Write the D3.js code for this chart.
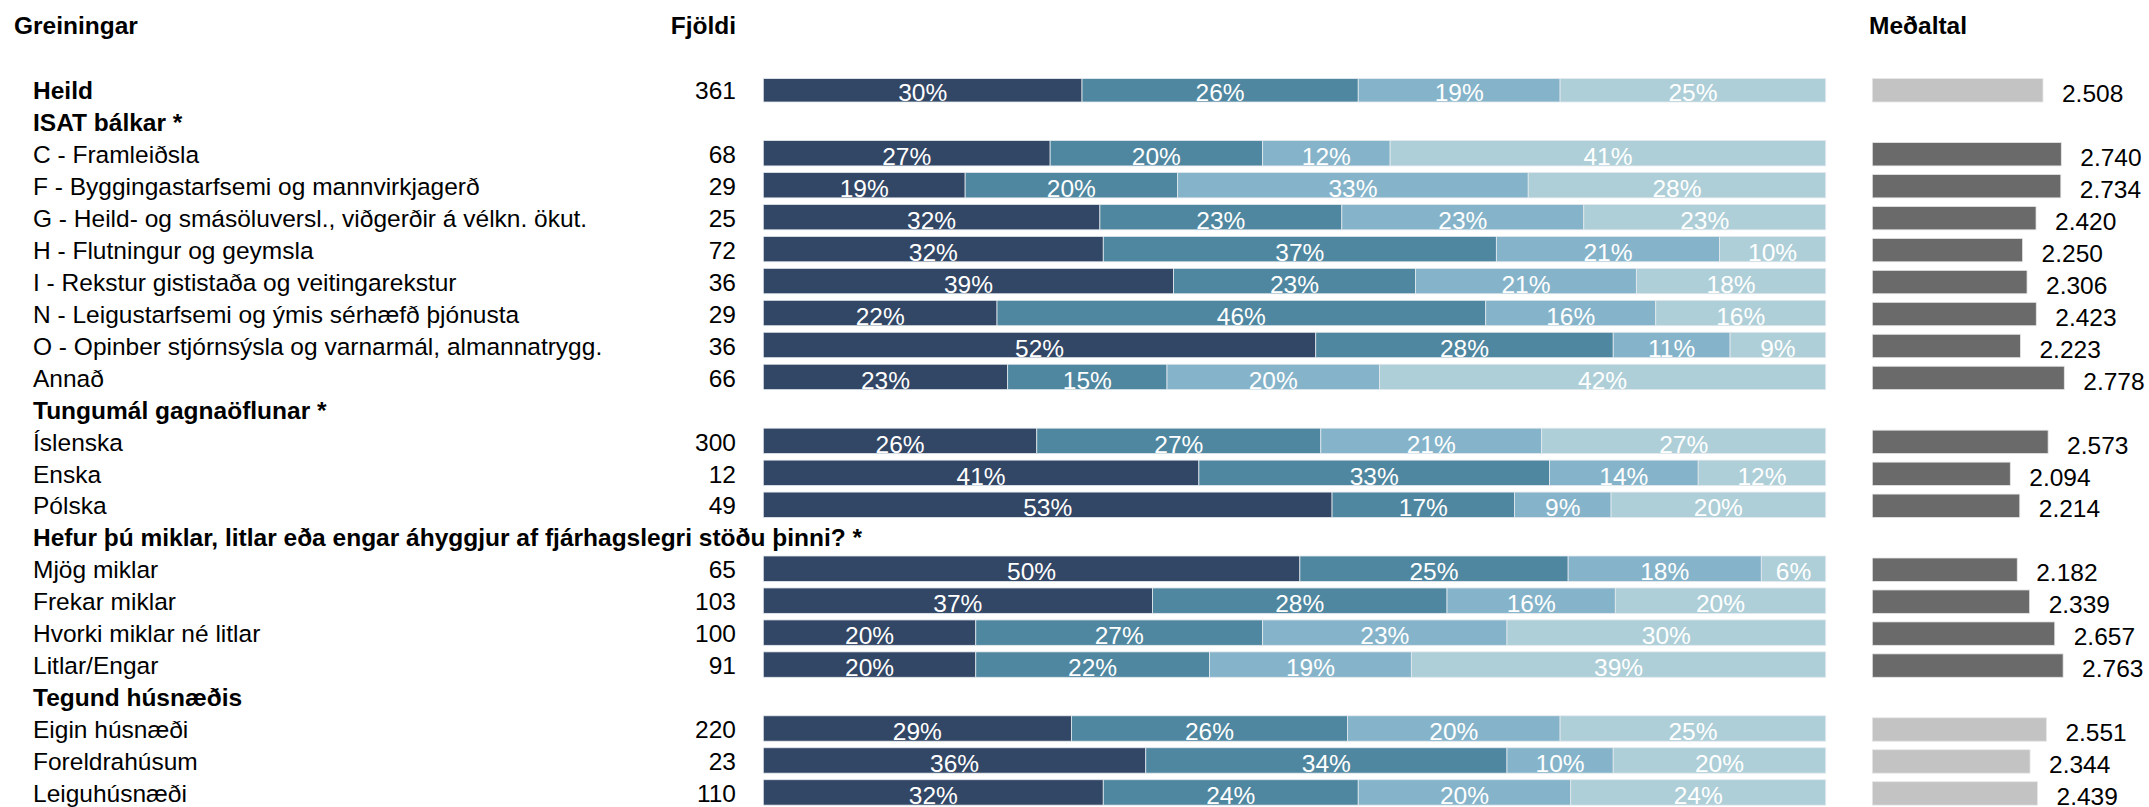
<!DOCTYPE html>
<html>
<head>
<meta charset="utf-8">
<script src="https://cdn.jsdelivr.net/npm/d3@7"></script>
<style>
  html, body { margin: 0; padding: 0; background: #ffffff; }
  svg { display: block; font-family: "Liberation Sans", Arial, sans-serif; }
</style>
</head>
<body>
<svg id="chart" width="2149" height="807"></svg>
<script>
// ---------- data ----------
const categories = [
  "Heild",
  "ISAT bálkar *",
  "C - Framleiðsla",
  "F - Byggingastarfsemi og mannvirkjagerð",
  "G - Heild- og smásöluversl., viðgerðir á vélkn. ökut.",
  "H - Flutningur og geymsla",
  "I - Rekstur gististaða og veitingarekstur",
  "N - Leigustarfsemi og ýmis sérhæfð þjónusta",
  "O - Opinber stjórnsýsla og varnarmál, almannatrygg.",
  "Annað",
  "Tungumál gagnaöflunar *",
  "Íslenska",
  "Enska",
  "Pólska",
  "Hefur þú miklar, litlar eða engar áhyggjur af fjárhagslegri stöðu þinni? *",
  "Mjög miklar",
  "Frekar miklar",
  "Hvorki miklar né litlar",
  "Litlar/Engar",
  "Tegund húsnæðis",
  "Eigin húsnæði",
  "Foreldrahúsum",
  "Leiguhúsnæði"
];
const boldRows = [
  "Heild",
  "ISAT bálkar *",
  "Tungumál gagnaöflunar *",
  "Hefur þú miklar, litlar eða engar áhyggjur af fjárhagslegri stöðu þinni? *",
  "Tegund húsnæðis"
];
const counts = [361, null, 68, 29, 25, 72, 36, 29, 36, 66, null, 300, 12, 49, null, 65, 103, 100, 91, null, 220, 23, 110];
const series1 = [30, null, 27, 19, 32, 32, 39, 22, 52, 23, null, 26, 41, 53, null, 50, 37, 20, 20, null, 29, 36, 32];
const series2 = [26, null, 20, 20, 23, 37, 23, 46, 28, 15, null, 27, 33, 17, null, 25, 28, 27, 22, null, 26, 34, 24];
const series3 = [19, null, 12, 33, 23, 21, 21, 16, 11, 20, null, 21, 14, 9, null, 18, 16, 23, 19, null, 20, 10, 20];
const series4 = [25, null, 41, 28, 23, 10, 18, 16, 9, 42, null, 27, 12, 20, null, 6, 20, 30, 39, null, 25, 20, 24];
const means = [2.508, null, 2.740, 2.734, 2.420, 2.250, 2.306, 2.423, 2.223, 2.778, null, 2.573, 2.094, 2.214, null, 2.182, 2.339, 2.657, 2.763, null, 2.551, 2.344, 2.439];
const headers = { group: "Greiningar", count: "Fjöldi", mean: "Meðaltal" };

// ---------- styles ----------
const seriesKeys = ["s1", "s2", "s3", "s4"];
const seriesColors = ["#324665", "#4f87a0", "#85b4ca", "#aecfd8"];
const meanDark = "#6a6a6a";
const meanLight = "#c3c3c3";
const fontSize = 24.5;

// ---------- build ----------
const svg = d3.select("#chart");

const rows = categories.map((c, i) => ({
  label: c, idx: i, bold: boldRows.includes(c), count: counts[i],
  s1: series1[i], s2: series2[i], s3: series3[i], s4: series4[i], mean: means[i]
}));

// which group each row belongs to (for mean bar shade: groups marked * are dark)
let currentStar = false;
rows.forEach(r => {
  if (r.bold && r.count === null) currentStar = r.label.trim().endsWith("*");
  if (r.label === "Heild") r.star = false; else r.star = currentStar;
});

// y: bottom edge of each row's bars
const y = d3.scalePoint().domain(categories).range([102, 102 + 22 * 31.96]);
const x = d3.scaleLinear().domain([0, 1]).range([763.3, 1825.7]);
const xm = d3.scaleLinear().domain([0.346, 2.778]).range([1872.3, 2064.3]);

// headers
svg.append("text").attr("x", 14).attr("y", 34).attr("font-size", fontSize).attr("font-weight", "bold")
  .attr("fill", "#000").text(headers.group);
svg.append("text").attr("x", 736).attr("y", 34).attr("font-size", fontSize).attr("font-weight", "bold")
  .attr("text-anchor", "end").attr("fill", "#000").text(headers.count);
svg.append("text").attr("x", 1869).attr("y", 34).attr("font-size", fontSize).attr("font-weight", "bold")
  .attr("fill", "#000").text(headers.mean);

// row labels
svg.append("g").selectAll("text").data(rows).join("text")
  .attr("x", 33)
  .attr("y", d => y(d.label) - 3)
  .attr("font-size", fontSize)
  .attr("font-weight", d => d.bold ? "bold" : "normal")
  .attr("fill", "#000")
  .text(d => d.label);

// counts
const dataRows = rows.filter(r => r.count !== null);
svg.append("g").selectAll("text").data(dataRows).join("text")
  .attr("x", 736)
  .attr("y", d => y(d.label) - 3)
  .attr("font-size", fontSize)
  .attr("text-anchor", "end")
  .attr("fill", "#000")
  .text(d => d.count);

// stacked bars
const stack = d3.stack().keys(seriesKeys).offset(d3.stackOffsetExpand);
const stacked = stack(dataRows);
const barH = d => d.data.label === "Heild" ? 23.4 : 25.4;

const layers = svg.append("g").selectAll("g").data(stacked).join("g")
  .attr("fill", (d, i) => seriesColors[i]);

layers.selectAll("rect").data(d => d).join("rect")
  .attr("x", d => x(d[0]))
  .attr("y", d => y(d.data.label) - barH(d))
  .attr("width", d => x(d[1]) - x(d[0]))
  .attr("height", d => barH(d))
  .attr("stroke", "#e4e9ee")
  .attr("stroke-width", 0.8);

layers.selectAll("text").data((d, i) => d.map(v => ({ v, key: seriesKeys[i] }))).join("text")
  .attr("x", d => (x(d.v[0]) + x(d.v[1])) / 2)
  .attr("y", d => y(d.v.data.label) - 1)
  .attr("text-anchor", "middle")
  .attr("font-size", fontSize)
  .attr("fill", "#ffffff")
  .text(d => d.v.data[d.key] + "%");

// mean bars
svg.append("g").selectAll("rect").data(dataRows).join("rect")
  .attr("x", xm(0.346))
  .attr("y", d => y(d.label) - 23.4)
  .attr("width", d => xm(d.mean) - xm(0.346))
  .attr("height", 23.4)
  .attr("fill", d => d.star ? meanDark : meanLight)
  .attr("stroke", "#e6e6e6")
  .attr("stroke-width", 0.8);

svg.append("g").selectAll("text").data(dataRows).join("text")
  .attr("x", d => xm(d.mean) + 19)
  .attr("y", d => y(d.label))
  .attr("font-size", fontSize)
  .attr("fill", "#000")
  .text(d => d3.format(".3f")(d.mean));
</script>
</body>
</html>
